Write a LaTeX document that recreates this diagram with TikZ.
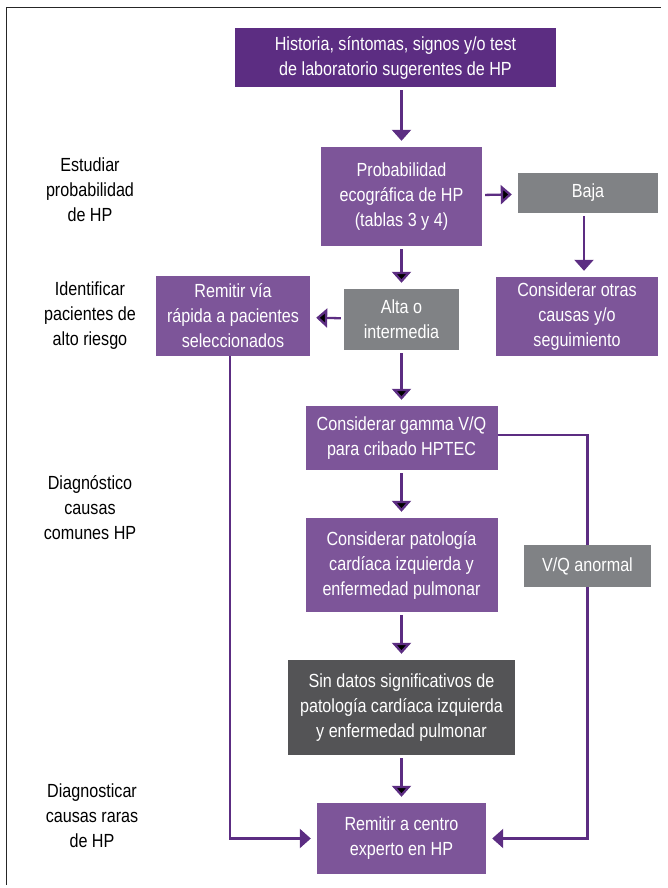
\documentclass[tikz,border=0pt]{standalone}
\usepackage{fontspec}
\setmainfont{Liberation Sans}[FakeStretch=0.85]
\usetikzlibrary{positioning, arrows.meta, calc}
\definecolor{hpdark}{HTML}{5C2D82}
\definecolor{hpmid}{HTML}{7D5599}
\definecolor{hpgray}{HTML}{808285}
\definecolor{hpsin}{HTML}{545456}

\begin{document}
\begin{tikzpicture}[x=1pt, y=-1pt, font=\fontsize{19}{25}\selectfont,
    >={Triangle[width=19pt,length=11pt]},
    box/.style={rectangle, inner sep=0pt, text=white, align=center},
    darkbox/.style={box, fill=hpdark},
    purplebox/.style={box, fill=hpmid},
    graybox/.style={box, fill=hpgray},
    nodatabox/.style={box, fill=hpsin},
    stage/.style={align=center, text=black},
    link/.style={draw=hpdark, line width=2.3pt},
    shorten >=6pt, shorten <=3pt]
  \useasboundingbox (0,0) rectangle (667,888);
  \draw[line width=1.2pt, black!85] (6.5,888) -- (6.5,7.5) -- (667,7.5);

  \node[darkbox, minimum width=321pt, minimum height=59pt]   (hist)    at (395.5,57.5) {Historia, síntomas, signos y/o test\\de laboratorio sugerentes de HP};
  \node[purplebox, minimum width=161pt, minimum height=99pt] (prob)    at (401.5,196.5) {Probabilidad\\ecográfica de HP\\(tablas 3 y 4)};
  \node[graybox, minimum width=140pt, minimum height=40pt]   (baja)    at (588,193) {Baja};
  \node[purplebox, minimum width=162pt, minimum height=79pt] (otras)   at (577,316.5) {Considerar otras\\causas y/o\\seguimiento};
  \node[graybox, minimum width=115pt, minimum height=61pt]   (alta)    at (401.5,319.5) {Alta o\\intermedia};
  \node[purplebox, minimum width=154pt, minimum height=80pt] (rapida)  at (233,316) {Remitir vía\\rápida a pacientes\\seleccionados};
  \node[purplebox, minimum width=192pt, minimum height=64pt] (gamma)   at (401.5,438) {Considerar gamma V/Q\\para cribado HPTEC};
  \node[purplebox, minimum width=192pt, minimum height=94pt] (pato)    at (401.5,565) {Considerar patología\\cardíaca izquierda y\\enfermedad pulmonar};
  \node[nodatabox, minimum width=227pt, minimum height=95pt] (nodata)  at (401.5,707.5) {Sin datos significativos de\\patología cardíaca izquierda\\y enfermedad pulmonar};
  \node[graybox, minimum width=127pt, minimum height=42pt]   (vq)      at (587.5,566) {V/Q anormal};
  \node[purplebox, minimum width=169pt, minimum height=71pt] (centro)  at (401.5,838.5) {Remitir a centro\\experto en HP};

  \node[stage] (estudiar)  at (90,190) {Estudiar\\probabilidad\\de HP};
  \node[stage] (identif)   at (90,316) {Identificar\\pacientes de\\alto riesgo};
  \node[stage] (comunes)   at (90,508) {Diagnóstico\\causas\\comunes HP};
  \node[stage] (raras)     at (92,816) {Diagnosticar\\causas raras\\de HP};

  \path[link, ->]
    (prob) edge (baja)
           edge (alta)
    (alta) edge (rapida)
           edge (gamma)
    (gamma) edge (pato)
    (pato) edge (nodata)
    (nodata) edge (centro);
  \draw[link, ->] (prob.north |- hist.south) -- (prob.north);
  \draw[link, ->] (584,0 |- baja.south) -- (584,0 |- otras.north);
  \draw[link, ->, shorten <=0pt] (230,0 |- rapida.south) |- (centro.west);
  \draw[link, shorten >=0pt, shorten <=0pt] (gamma.east |- 0,435) -| (vq.north);
  \draw[link, ->, shorten <=0pt] (vq.south) |- (centro.east);
\end{tikzpicture}
\end{document}
